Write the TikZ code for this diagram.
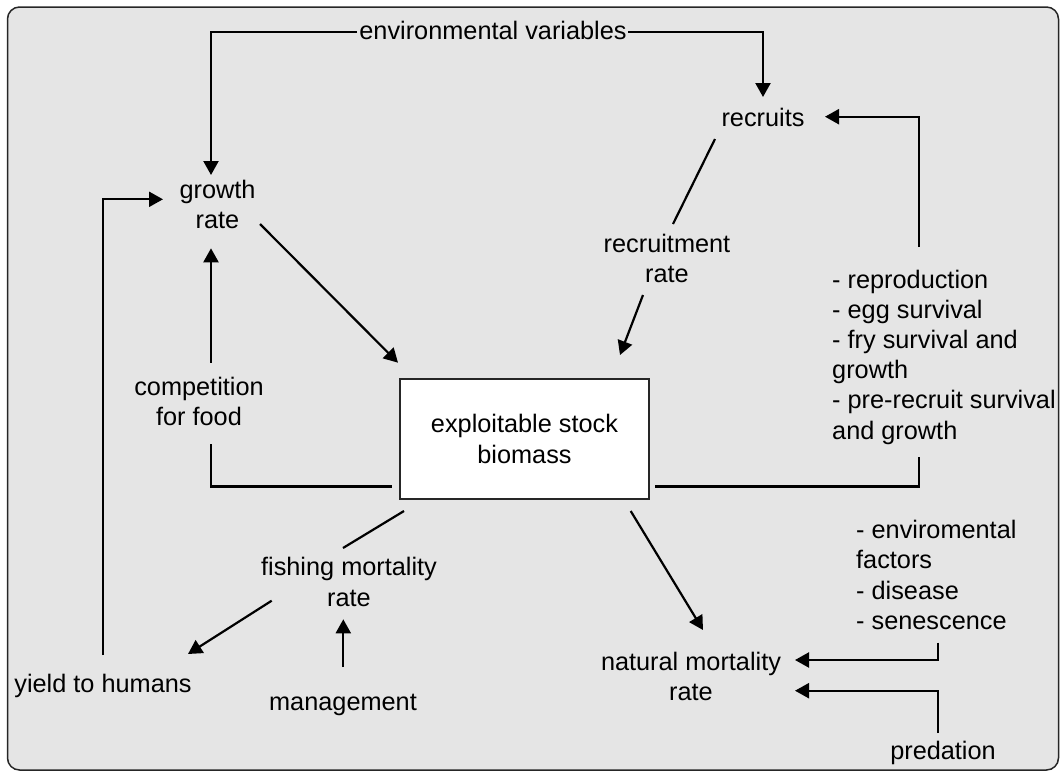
\documentclass[tikz,border=0pt]{standalone}
\usepackage{fontspec}
\setmainfont{Liberation Sans}
\usetikzlibrary{arrows.meta}
\begin{document}
\begin{tikzpicture}[x=1pt,y=-1pt,
  lbl/.style={font=\fontsize{25.3}{30.2}\selectfont, inner sep=0pt, align=center, anchor=base},
  lst/.style={font=\fontsize{25.3}{30.2}\selectfont, inner sep=0pt, align=left, anchor=base west},
  conn/.style={line width=2.2pt, black},
  arr/.style={conn, -{Triangle[length=14pt,width=15pt]}},
  stockbox/.style={draw=black!85, fill=white, line width=1.5pt, minimum width=249pt, minimum height=120pt, inner sep=0pt, align=center, font=\fontsize{25.3}{30.2}\selectfont}]
\useasboundingbox (0,0) rectangle (1061,772);
\draw[fill=black!10, draw=black!85, line width=1.5pt, rounded corners=12pt] (7.5,7) rectangle (1058.5,770);

% nodes (base anchor = baseline of the last line)
\node[lbl] (env) at (493,39) {environmental variables};
\node[lbl] (recruits) at (763,126) {recruits};
\node[lbl] (rrate) at (667,282.7) {recruitment\\rate};
\node[lbl] (growth) at (217.5,228.5) {growth\\rate};
\node[lbl] (comp) at (199,425.7) {competition\\for food};
\node[stockbox] (box) at (524.5,439) {exploitable stock\\biomass};
\node[lbl] (fish) at (349,606) {fishing mortality\\rate};
\node[lbl] (yield) at (103,692) {yield to humans};
\node[lbl] (mgmt) at (343,710) {management};
\node[lbl] (nat) at (691,700.7) {natural mortality\\rate};
\node[lbl] (pred) at (943,759) {predation};
\node[lst] (repro) at (832,439) {- reproduction\\- egg survival\\- fry survival and\\growth\\- pre-recruit survival\\and growth};
\node[lst] (envf) at (856,629.3) {- enviromental\\factors\\- disease\\- senescence};

% connector end points
\coordinate (envL) at (357,32);
\coordinate (envR) at (628,32);
\coordinate (growthTop) at (211,175);
\coordinate (recTop) at (763,97);
\coordinate (reproTop) at (919,247);
\coordinate (recRight) at (825,116.7);
\coordinate (recBot) at (715,139);
\coordinate (rrateTop) at (673,224);
\coordinate (rrateBot) at (643,295);
\coordinate (boxTopR) at (620,355);
\coordinate (growthBR) at (260,224);
\coordinate (boxTopL) at (398,362.7);
\coordinate (compTop) at (211,362.7);
\coordinate (growthBot) at (211,248.3);
\coordinate (compBot) at (211,444.3);
\coordinate (boxL) at (392.3,486.5);
\coordinate (boxR) at (655,486.5);
\coordinate (reproBot) at (919,456.7);
\coordinate (boxBL) at (404,511);
\coordinate (fishTop) at (343,548);
\coordinate (fishBL) at (271.7,600.7);
\coordinate (yieldTR) at (188,654);
\coordinate (yieldTop) at (103.3,655);
\coordinate (growthL) at (163,199.3);
\coordinate (mgmtTop) at (343.3,667);
\coordinate (fishBot) at (343.3,619.3);
\coordinate (boxBR) at (630.7,511);
\coordinate (natTop) at (703,630);
\coordinate (envfBot) at (937.7,642.7);
\coordinate (natR1) at (795,660);
\coordinate (predTop) at (937.7,733);
\coordinate (natR2) at (795,690.7);

% connectors
\draw[arr] (envL) -| (growthTop);
\draw[arr] (envR) -| (recTop);
\draw[arr] (reproTop) |- (recRight);
\draw[conn] (recBot) -- (rrateTop);
\draw[arr] (rrateBot) -- (boxTopR);
\draw[arr] (growthBR) -- (boxTopL);
\draw[arr] (compTop) -- (growthBot);
\draw[conn] (compBot) |- (boxL);
\draw[conn] (boxR) -| (reproBot);
\draw[conn] (boxBL) -- (fishTop);
\draw[arr] (fishBL) -- (yieldTR);
\draw[arr] (yieldTop) |- (growthL);
\draw[arr] (mgmtTop) -- (fishBot);
\draw[arr] (boxBR) -- (natTop);
\draw[arr] (envfBot) |- (natR1);
\draw[arr] (predTop) |- (natR2);
\end{tikzpicture}
\end{document}
